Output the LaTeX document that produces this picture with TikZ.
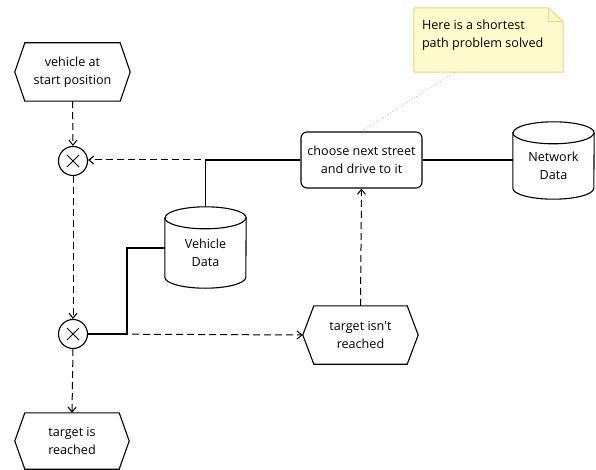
\documentclass[tikz,border=0pt]{standalone}
\usepackage{fontspec}
\setmainfont{Open Sans}
\usetikzlibrary{arrows.meta,calc}

\definecolor{notefill}{RGB}{255,251,204}
\definecolor{noteline}{RGB}{255,208,118}

\tikzset{
  every node/.style={font=\fontsize{12.6}{18}\selectfont, align=center, inner sep=0pt},
  shapeline/.style={line width=1.1pt, black},
  event/.style={minimum width=115pt, minimum height=58pt},
  func/.style={draw, line width=1.1pt, rounded corners=6pt, minimum width=121pt, minimum height=56pt},
  xorop/.style={draw, circle, line width=1.1pt, minimum size=29pt},
  store/.style={minimum width=81pt},
  ctrl/.style={line width=1pt, dash pattern=on 7pt off 4pt, -{Straight Barb[length=5pt,width=8pt]}},
  dataflow/.style={line width=1.1pt},
  hint/.style={gray!60, dotted, line width=0.8pt},
  notebox/.style={fill=notefill, draw=noteline, line width=1pt},
}

% hexagonal event outline around a node
\newcommand\hexoutline[2][11pt]{%
  \draw[shapeline] (#2.west) -- ([xshift=#1]#2.north west) -- ([xshift=-#1]#2.north east)
    -- (#2.east) -- ([xshift=-#1]#2.south east) -- ([xshift=#1]#2.south west) -- cycle;}

% data store cylinder; node box spans from the top ellipse centre to the bottom
\newcommand\cylinderoutline[2]{%
  \draw[shapeline] (#1.north west) -- ([yshift=11pt]#1.south west)
    arc[start angle=180, end angle=360, x radius=#2, y radius=11pt]
    -- (#1.north east)
    arc[start angle=0, end angle=180, x radius=#2, y radius=11pt] -- cycle;
  \draw[shapeline] (#1.north west)
    arc[start angle=180, end angle=360, x radius=#2, y radius=11pt];}

% XOR connector with a cross
\newcommand\xorcross[1]{%
  \draw[line width=1pt] ([shift={(-6pt,-6pt)}]#1.center) -- ([shift={(6pt,6pt)}]#1.center);
  \draw[line width=1pt] ([shift={(-6pt,6pt)}]#1.center) -- ([shift={(6pt,-6pt)}]#1.center);}

\begin{document}
\begin{tikzpicture}[x=1pt, y=-1pt]
\useasboundingbox (0,0) rectangle (596,470);

% note
\node[minimum width=149pt, minimum height=64pt] (note) at (488.5,40) {};
\draw[notebox] (note.north west) -- ([xshift=-15pt]note.north east)
  -- ([yshift=-14pt]note.north east) -- (note.south east) -- (note.south west) -- cycle;
\draw[draw=noteline, line width=1pt] ([xshift=-15pt]note.north east)
  |- ([yshift=-14pt]note.north east);
\node[anchor=north west, align=left] (notetext) at ([xshift=8pt,yshift=-12pt]note.north west)
  {Here is a shortest\\path problem solved};

% events
\node[event] (start) at (72.5,72) {vehicle at\\start position};
\hexoutline[10pt]{start}
\node[event, minimum width=114pt, minimum height=56pt] (reached) at (72,441) {target is\\reached};
\hexoutline[10pt]{reached}
\node[event] (notreached) at (360.5,335) {target isn\textquotesingle t\\reached};
\hexoutline{notreached}

% function
\node[func] (choose) at (361.5,160) {choose next street\\and drive to it};

% connectors
\node[xorop] (xa) at (73,161) {};
\xorcross{xa}
\node[xorop] (xb) at (73,334) {};
\xorcross{xb}

% data stores
\node[store, minimum height=70pt] (vehicle) at (205.5,253) {Vehicle\\Data};
\cylinderoutline{vehicle}{40.5pt}
\node[store, minimum height=66pt] (network) at (553.5,166) {Network\\Data};
\cylinderoutline{network}{40.5pt}

% data links
\coordinate (vtop) at ([yshift=11pt]vehicle.north);
\coordinate (vside) at ([yshift=5pt]vehicle.west);
\coordinate (vbend) at (127,248);
\draw[dataflow] (vtop) |- (choose.west);
\draw[dataflow] (vside) -- (vbend) |- (xb.east);
\draw[dataflow] (choose.east) -- (choose.east -| network.west);

% control flow
\draw[ctrl] (start.south) -- (xa.north);
\draw[ctrl] (xa.south) -- (xb.north);
\draw[ctrl] (xb.south) -- (reached.north);
\draw[ctrl] (choose.west) -- (choose.west -| xa.east);
\draw[ctrl] (xb.east) -- (notreached.west);
\draw[ctrl] (notreached.north) -- (choose.south);

% note link
\draw[hint] ([xshift=41pt]note.south west) -- (choose.north);
\end{tikzpicture}
\end{document}
